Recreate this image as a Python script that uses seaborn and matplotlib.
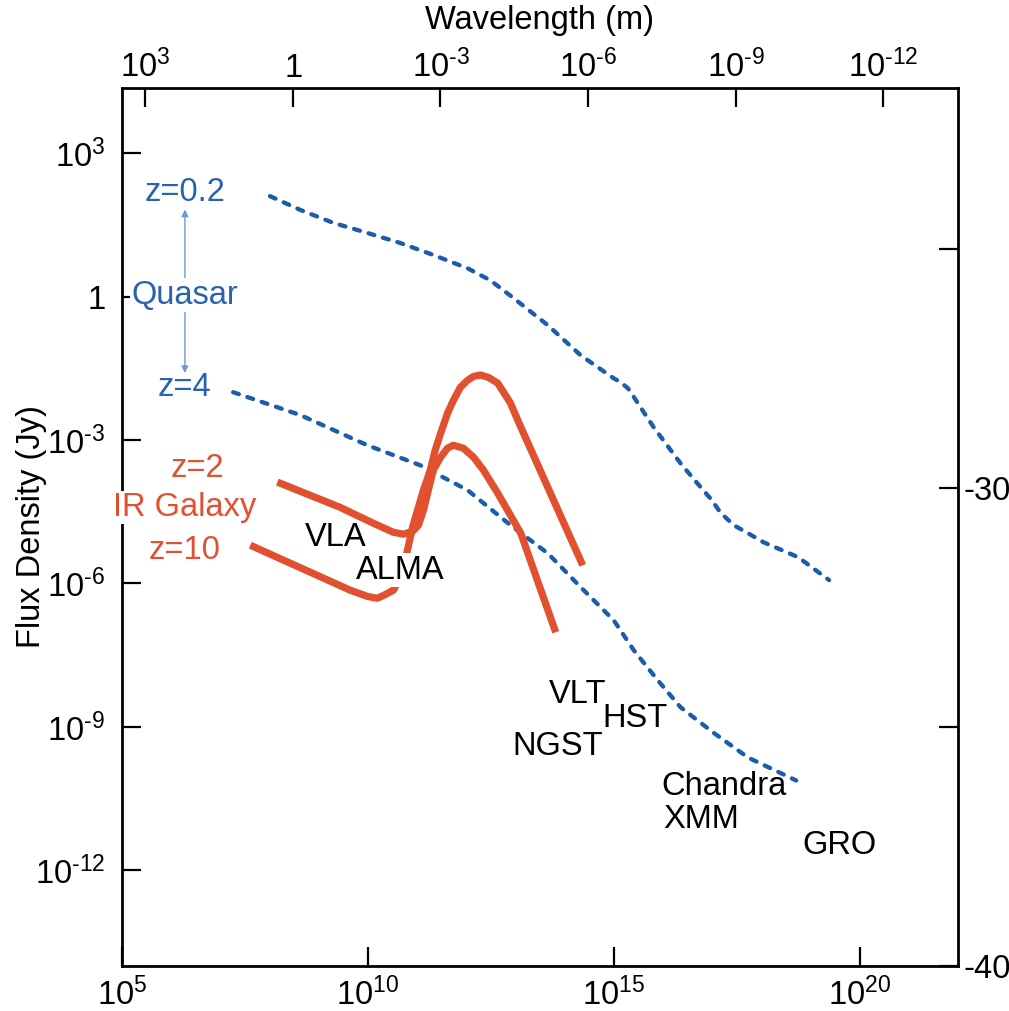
import matplotlib
matplotlib.use("Agg")
import matplotlib.pyplot as plt
import seaborn as sns
import numpy as np

# values (log10 of frequency in Hz, log10 of flux in Jy)
quasar_z02_lognu = [8.01, 8.63, 9.30, 9.99, 10.66, 11.33, 12.03, 12.49, 12.96, 13.66, 14.33,
                    15.00, 15.14, 15.29, 15.39, 15.49, 15.81, 16.36, 16.77, 16.98, 17.18,
                    17.44, 17.73, 18.05, 18.75, 19.38]
quasar_z02_logf = [2.10, 1.81, 1.54, 1.33, 1.12, 0.87, 0.59, 0.34, -0.03, -0.60, -1.23,
                   -1.71, -1.79, -1.92, -2.07, -2.23, -2.73, -3.49, -3.99, -4.24, -4.53,
                   -4.78, -4.95, -5.14, -5.45, -5.93]

quasar_z4_lognu = [7.26, 8.63, 9.99, 11.07, 12.03, 12.90, 13.66, 14.33, 15.00, 15.41, 15.90,
                   16.36, 17.04, 17.73, 18.71]
quasar_z4_logf = [-2.00, -2.48, -3.11, -3.53, -4.05, -4.78, -5.37, -6.08, -6.77, -7.40, -8.03,
                  -8.59, -9.13, -9.64, -10.12]

irgal_z2_lognu = [8.16, 9.44, 10.11, 10.52, 10.72, 10.91, 11.03, 11.13, 11.23, 11.33, 11.48,
                  11.62, 11.74, 11.94, 12.15, 12.35, 12.64, 13.11, 13.82]
irgal_z2_logf = [-3.88, -4.41, -4.74, -4.93, -4.97, -4.91, -4.78, -4.47, -4.05, -3.63, -3.36,
                 -3.17, -3.11, -3.17, -3.36, -3.63, -4.11, -4.95, -7.02]

irgal_z10_lognu = [7.61, 9.64, 9.99, 10.19, 10.32, 10.52, 10.66, 10.76, 10.91, 11.01, 11.13,
                   11.27, 11.37, 11.48, 11.62, 11.74, 11.88, 12.03, 12.15, 12.29, 12.45,
                   12.64, 12.76, 12.90, 13.11, 14.37]
irgal_z10_logf = [-5.20, -6.14, -6.27, -6.31, -6.25, -6.14, -5.87, -5.51, -4.82, -4.47, -4.05,
                  -3.63, -3.21, -2.86, -2.44, -2.17, -1.90, -1.75, -1.67, -1.64, -1.69,
                  -1.81, -2.00, -2.23, -2.73, -5.62]

freq_ticks = [1e5, 1e10, 1e15, 1e20]
freq_labels = ["10^{5}", "10^{10}", "10^{15}", "10^{20}"]
flux_ticks = [1e3, 1, 1e-3, 1e-6, 1e-9, 1e-12]
flux_labels = ["10^{3}", "1", "10^{\\text{-}3}", "10^{\\text{-}6}", "10^{\\text{-}9}", "10^{\\text{-}12}"]
wave_ticks = [1e3, 1, 1e-3, 1e-6, 1e-9, 1e-12]
wave_labels = ["10^{3}", "1", "10^{\\text{-}3}", "10^{\\text{-}6}", "10^{\\text{-}9}", "10^{\\text{-}12}"]
right_ticks = [-40, -35, -30, -25]
right_labels = ["-40", "", "-30", ""]

c_light = 3e8
RED = "#E1502F"
BLUE = "#1B5DAA"
TXT_BLUE = "#2862B0"
FS = 23.5

sns.set_theme(style="white")
plt.rcParams["font.family"] = ["Liberation Sans", "DejaVu Sans"]
plt.rcParams["mathtext.fontset"] = "custom"
plt.rcParams["mathtext.rm"] = "Liberation Sans"
plt.rcParams["mathtext.it"] = "Liberation Sans"
plt.rcParams["mathtext.default"] = "regular"
plt.rcParams["axes.unicode_minus"] = False
plt.rcParams["text.color"] = "black"
plt.rcParams["axes.labelcolor"] = "black"
plt.rcParams["xtick.color"] = "black"
plt.rcParams["ytick.color"] = "black"

fig = plt.figure(figsize=(10.09, 10.11), dpi=100)
ax = fig.add_axes([0.1209, 0.0445, 0.8285, 0.8684])
ax.set_xscale("log")
ax.set_yscale("log")
ax.set_xlim(1e5, 1e22)
ax.set_ylim(1e-14, 10 ** 4.36)

# quasars (dashed blue)
for lnu, lf in [(quasar_z02_lognu, quasar_z02_logf), (quasar_z4_lognu, quasar_z4_logf)]:
    sns.lineplot(x=10 ** np.array(lnu), y=10 ** np.array(lf), ax=ax, color=BLUE, lw=3.1,
                 sort=False, estimator=None, zorder=2)
    ln = ax.lines[-1]
    ln.set_dashes([1.4, 2.1])
    ln.set_dash_capstyle("round")
    ln.set_dash_joinstyle("round")

# IR galaxies (thick red)
for lnu, lf in [(irgal_z2_lognu, irgal_z2_logf), (irgal_z10_lognu, irgal_z10_logf)]:
    sns.lineplot(x=10 ** np.array(lnu), y=10 ** np.array(lf), ax=ax, color=RED, lw=5.2,
                 sort=False, estimator=None, zorder=2.2)
    ax.lines[-1].set_solid_joinstyle("round")
    ax.lines[-1].set_solid_capstyle("butt")

ax.set_xticks(freq_ticks)
ax.set_xticklabels(["$\\mathregular{%s}$" % s for s in freq_labels])
ax.set_yticks(flux_ticks)
ax.set_yticklabels(["$\\mathregular{%s}$" % s for s in flux_labels])
ax.minorticks_off()
ax.tick_params(direction="in", length=14, width=1.6, labelsize=FS, colors="black")
ax.tick_params(axis="x", pad=8)
ax.tick_params(axis="y", pad=12)
ax.set_ylabel("Flux Density (Jy)", fontsize=FS, color="black")
ax.yaxis.set_label_coords(-0.09, 0.5)
for sp in ax.spines.values():
    sp.set_linewidth(2.0)
    sp.set_color("black")
    sp.set_zorder(2.5)

# top axis: wavelength
ax_t = ax.twiny()
ax_t.set_xscale("log")
ax_t.set_xlim(ax.get_xlim())
ax_t.set_xticks([c_light / w for w in wave_ticks])
ax_t.set_xticklabels(["$\\mathregular{%s}$" % s for s in wave_labels])
ax_t.minorticks_off()
ax_t.tick_params(direction="in", length=14, width=1.6, labelsize=FS, pad=3, colors="black")
ax_t.set_xlabel("Wavelength (m)", fontsize=FS, labelpad=15, color="black")

# right axis: log flux in W m^-2 Hz^-1
ax_r = ax.twinx()
ax_r.set_ylim(-40, 4.36 - 26)
ax_r.set_yticks(right_ticks)
ax_r.set_yticklabels(right_labels)
ax_r.tick_params(direction="in", length=14, width=1.6, labelsize=FS, pad=4, colors="black")
for a in (ax_t, ax_r):
    for sp in a.spines.values():
        sp.set_visible(False)

# labels
ax.text(10 ** 6.28, 10 ** 2.18, "z=0.2", color=TXT_BLUE, fontsize=FS, ha="center", va="center")
ax.text(10 ** 6.28, 10 ** 0.03, "Quasar", color=TXT_BLUE, fontsize=FS, ha="center", va="center",
        zorder=5, bbox=dict(facecolor="white", edgecolor="none", pad=1))
ax.text(10 ** 6.28, 10 ** -1.90, "z=4", color=TXT_BLUE, fontsize=FS, ha="center", va="center")
ax.annotate("", xy=(10 ** 6.28, 10 ** 1.82), xytext=(10 ** 6.28, 10 ** -1.60),
            arrowprops=dict(arrowstyle="<|-|>", color="#6B9AD6", lw=1.0,
                            mutation_scale=10, shrinkA=0, shrinkB=0), zorder=1.5)

ax.text(10 ** 6.53, 10 ** -3.59, "z=2", color=RED, fontsize=FS, ha="center", va="center")
ax.text(10 ** 6.28, 10 ** -4.41, "IR Galaxy", color=RED, fontsize=FS, ha="center", va="center",
        zorder=5, bbox=dict(facecolor="white", edgecolor="none", pad=1))
ax.text(10 ** 6.28, 10 ** -5.31, "z=10", color=RED, fontsize=FS, ha="center", va="center")

ax.text(10 ** 9.34, 10 ** -5.03, "VLA", fontsize=FS, ha="center", va="center", color="black")
ax.text(10 ** 10.66, 10 ** -5.72, "ALMA", fontsize=FS, ha="center", va="center", color="black",
        zorder=5, bbox=dict(facecolor="white", edgecolor="none", pad=1))
ax.text(10 ** 14.27, 10 ** -8.32, "VLT", fontsize=FS, ha="center", va="center", color="black")
ax.text(10 ** 15.43, 10 ** -8.82, "HST", fontsize=FS, ha="center", va="center", color="black")
ax.text(10 ** 13.86, 10 ** -9.41, "NGST", fontsize=FS, ha="center", va="center", color="black")
ax.text(10 ** 17.24, 10 ** -10.24, "Chandra", fontsize=FS, ha="center", va="center", color="black")
ax.text(10 ** 16.77, 10 ** -10.93, "XMM", fontsize=FS, ha="center", va="center", color="black")
ax.text(10 ** 19.58, 10 ** -11.48, "GRO", fontsize=FS, ha="center", va="center", color="black")

fig.savefig("out.png", dpi=100)
